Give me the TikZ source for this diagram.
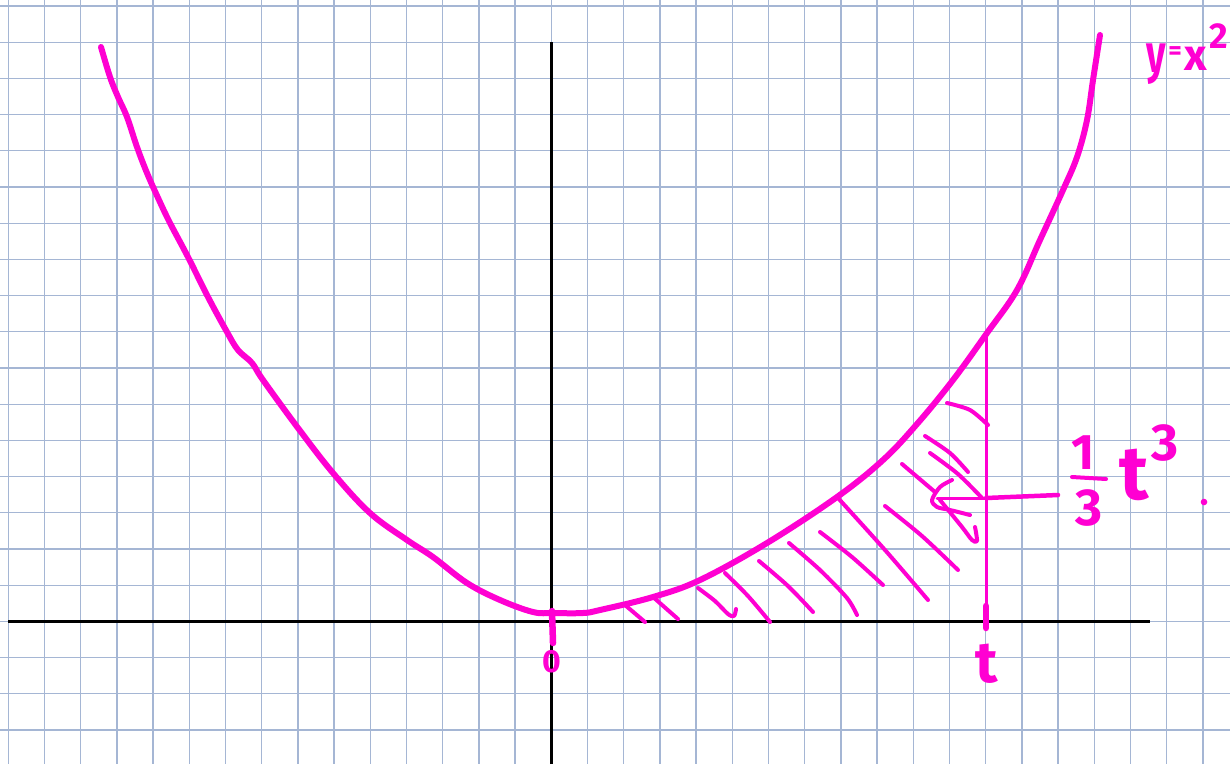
\documentclass[tikz,border=0pt]{standalone}
\usepackage{fontspec}
\setmainfont{Fira Sans}
\definecolor{pinkpen}{RGB}{255,0,210}
\definecolor{gridblue}{RGB}{165,182,212}
\begin{document}
\begin{tikzpicture}[x=1pt,y=-1pt,
  gridline/.style={gridblue,line width=1.3pt},
  axisline/.style={black,line width=3.3pt},
  curvepen/.style={pinkpen,line width=6pt,line cap=round,line join=round},
  thinpen/.style={pinkpen,line width=3pt,line cap=round},
  hatchpen/.style={pinkpen,line width=4pt,line cap=round,line join=round},
  tickpen/.style={pinkpen,line width=6.5pt,line cap=round},
  handtext/.style={text=pinkpen,inner sep=0pt,outer sep=0pt}]
\useasboundingbox (0,0) rectangle (1230,764);
\fill[white] (0,0) rectangle (1230,764);
% grid paper
\foreach \k in {0,...,33} \draw[gridline] ({8.3+36.2*\k},0) -- ({8.3+36.2*\k},764);
\foreach \j in {0,...,20} \draw[gridline] (0,{6+36.2*\j}) -- (1230,{6+36.2*\j});
% axes
\coordinate (xl) at (8,621.5);
\coordinate (xr) at (1150,621.5);
\coordinate (yb) at (551.5,764);
\coordinate (yt) at (551.5,42);
\draw[axisline] (xl) -- (xr);
\draw[axisline] (yb) -- (yt);
% hatching
\draw[hatchpen] (625,605) -- (645,622);
\draw[hatchpen] (653,597) -- (678,619);
\draw[hatchpen] plot[smooth] coordinates {(698,588) (715,601) (728,614) (734,616) (736,609)};
\draw[hatchpen] plot[smooth] coordinates {(725,573) (748,596) (770,622)};
\draw[hatchpen] plot[smooth] coordinates {(759,561) (788,586) (813,612)};
\draw[hatchpen] plot[smooth] coordinates {(789,543) (820,570) (847,598) (857,615)};
\draw[hatchpen] plot[smooth] coordinates {(820,532) (852,557) (883,585)};
\draw[hatchpen] plot[smooth] coordinates {(838,498) (885,550) (928,600)};
\draw[hatchpen] plot[smooth] coordinates {(885,506) (922,536) (958,570)};
\draw[hatchpen] (902,464) -- (935,492);
\draw[hatchpen] plot[smooth] coordinates {(930,453) (958,474) (982,498)};
\draw[hatchpen] plot[smooth] coordinates {(925,436) (950,453) (968,472)};
\draw[hatchpen] plot[smooth] coordinates {(947,403) (970,410) (988,425)};
\draw[hatchpen] plot[smooth] coordinates {(952,480) (940,487) (932,500) (937,507) (950,510) (970,515)};
\draw[hatchpen] plot[smooth] coordinates {(940,500) (962,527) (972,540) (977,541) (975,527)};
% curve y = x^2
\draw[curvepen] plot[smooth,tension=0.6] coordinates {
 (101,47) (110,77) (118,97) (127,117) (137,147) (147,173) (159,200) (170,223)
 (188,257) (208,297) (227,332) (238,350) (252,363) (263,380) (298,428) (333,473)
 (370,513) (407,540) (433,557) (467,583) (500,600) (533,612) (553,613) (583,613)
 (600,610) (653,597) (700,580) (767,543) (837,497) (883,460) (917,424) (953,380)
 (987,333) (1017,290) (1040,240) (1063,190) (1077,157) (1087,120) (1093,80) (1100,35)};
% vertical line at t
\coordinate (tc) at (986,335);
\coordinate (tb) at (986,624);
\draw[thinpen] (tc) -- (tb);
\coordinate (ttick1) at (986,606);
\coordinate (ttick2) at (986,628);
\draw[tickpen] (ttick1) -- (ttick2);
\coordinate (otick1) at (552,611);
\coordinate (otick2) at (553,643);
\draw[tickpen] (otick1) -- (otick2);
% pointer from label to area
\coordinate (pa) at (937,498);
\coordinate (pm) at (986,498);
\coordinate (pe) at (1058,495);
\draw[thinpen] (pa) -- (pm);
\draw[pinkpen,line width=4.5pt,line cap=round] (pm) -- (pe);
% labels
\node[handtext,font=\fontsize{32}{32}\bfseries\selectfont] (lblzero) at (552,662) {0};
\node[handtext,font=\fontsize{58}{58}\bfseries\selectfont] (lblt) at (987,664) {t};
\node[handtext,font=\fontsize{50}{50}\bfseries\selectfont] (fone) at (1083,453) {1};
\coordinate (barl) at (1072,477);
\coordinate (barr) at (1106,479);
\draw[pinkpen,line width=4pt,line cap=round] (barl) -- (barr);
\node[handtext,font=\fontsize{52}{52}\bfseries\selectfont] (fthree) at (1089,508) {3};
\node[handtext,font=\fontsize{76}{76}\bfseries\selectfont] (ft) at (1134,475) {t};
\node[handtext,font=\fontsize{52}{52}\bfseries\selectfont] (fexp) at (1165,443) {3};
\fill[pinkpen] (1204,502) circle (3.3);
\node[handtext,font=\fontsize{54}{54}\bfseries\selectfont,anchor=base] (ylaby) at (1156,72) {\scalebox{0.7}[1]{y}};
\node[handtext,font=\fontsize{26}{26}\bfseries\selectfont] (ylabeq) at (1175,53) {=};
\node[handtext,font=\fontsize{44}{44}\bfseries\selectfont] (ylabx) at (1196,59) {x};
\node[handtext,font=\fontsize{36}{36}\bfseries\selectfont] (ylabsq) at (1219,36) {2};
\end{tikzpicture}
\end{document}
